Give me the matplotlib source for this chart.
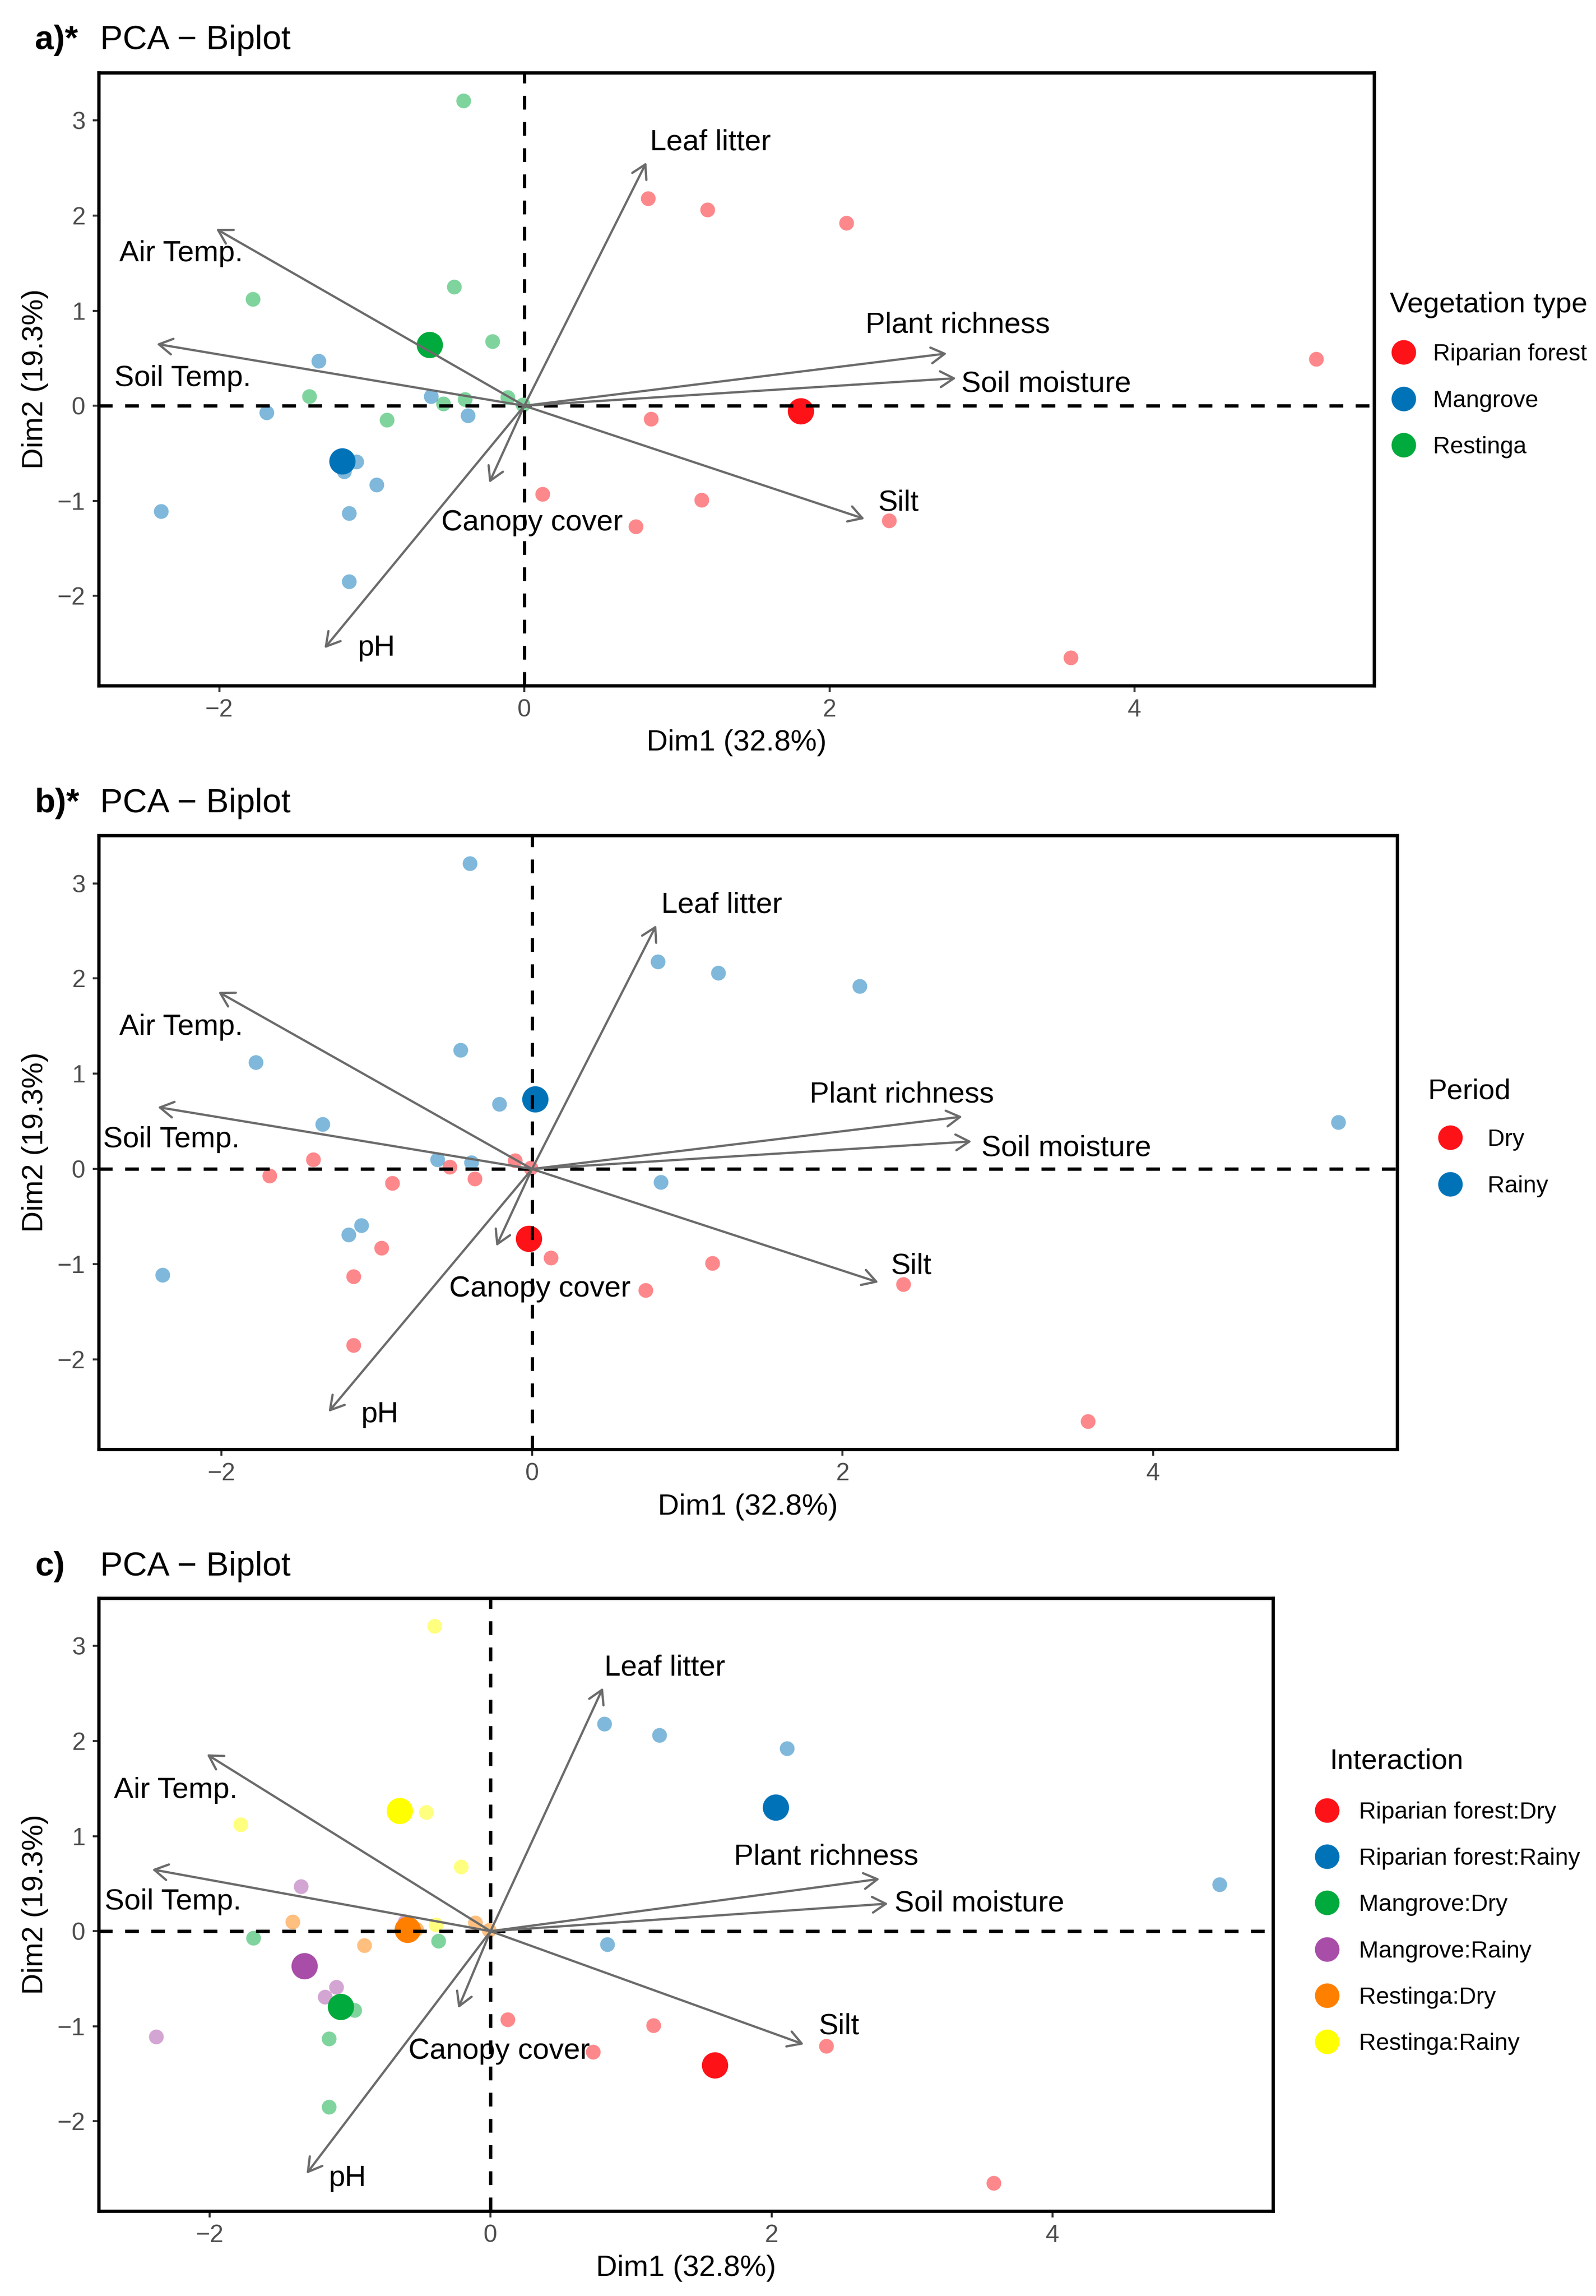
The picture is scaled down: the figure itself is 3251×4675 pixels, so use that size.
import numpy as np
import matplotlib
matplotlib.use("Agg")
import matplotlib.pyplot as plt
from matplotlib.lines import Line2D

plt.rcParams['font.family'] = ['Liberation Sans', 'DejaVu Sans']

### individuals (PCA scores) ###
dim1 = np.array([0.81, 1.20, 2.11, 5.19, 0.83,
                 0.12, 1.16, 0.73, 2.39, 3.58,
                 -1.35, -1.10, -1.18, -2.38, -0.61,
                 -1.69, -0.37, -0.97, -1.15, -1.15,
                 -0.40, -0.46, -1.78, -0.21, -0.39,
                 -1.41, -0.90, -0.53, -0.11, -0.01])
dim2 = np.array([2.18, 2.06, 1.92, 0.49, -0.14,
                 -0.93, -0.99, -1.27, -1.21, -2.65,
                 0.47, -0.59, -0.69, -1.11, 0.10,
                 -0.07, -0.10, -0.83, -1.13, -1.85,
                 3.21, 1.25, 1.12, 0.68, 0.07,
                 0.10, -0.15, 0.02, 0.09, 0.01])
vegetation = ["Riparian forest"] * 10 + ["Mangrove"] * 10 + ["Restinga"] * 10
period = (["Rainy"] * 5 + ["Dry"] * 5) * 3
interaction = [v + ":" + p for v, p in zip(vegetation, period)]

### variables (arrows) ###
var_names = ["Leaf litter", "Air Temp.", "Soil Temp.", "Plant richness",
             "Soil moisture", "Silt", "Canopy cover", "pH"]
var_dim1 = np.array([0.80, -2.02, -2.41, 2.77, 2.83, 2.23, -0.23, -1.31])
var_dim2 = np.array([2.56, 1.86, 0.65, 0.55, 0.29, -1.19, -0.81, -2.55])

### label positions of the arrows (repelled, so different per panel) ###
lab_a = [(1.22, 2.77), (-2.25, 1.60), (-2.24, 0.29), (2.84, 0.85),
         (3.42, 0.23), (2.45, -1.02), (0.05, -1.23), (-0.97, -2.55)]
lab_b = [(1.22, 2.77), (-2.26, 1.49), (-2.32, 0.31), (2.38, 0.78),
         (3.44, 0.22), (2.44, -1.02), (0.05, -1.26), (-0.98, -2.58)]
lab_c = [(1.24, 2.77), (-2.24, 1.48), (-2.26, 0.31), (2.39, 0.78),
         (3.48, 0.29), (2.48, -1.00), (0.06, -1.26), (-1.02, -2.60)]

veg_levels = ["Riparian forest", "Mangrove", "Restinga"]
veg_colors = ["#FD1218", "#0073B8", "#00AA3C"]
per_levels = ["Dry", "Rainy"]
per_colors = ["#FD1218", "#0073B8"]
int_levels = ["Riparian forest:Dry", "Riparian forest:Rainy", "Mangrove:Dry",
              "Mangrove:Rainy", "Restinga:Dry", "Restinga:Rainy"]
int_colors = ["#FD1218", "#0073B8", "#00AA3C", "#A84DA8", "#FF8000", "#FFFF00"]

W, H = 3251, 4675
fig = plt.figure(figsize=(W / 300, H / 300), dpi=300)

def fx(px):
    return px / W

def fy(py):
    return 1 - py / H

# data range + 5% (like ggplot)
allx = np.concatenate([dim1, var_dim1])
ally = np.concatenate([dim2, var_dim2])
rx = allx.max() - allx.min()
ry = ally.max() - ally.min()
xlim = (allx.min() - 0.05 * rx, allx.max() + 0.05 * rx)
ylim = (ally.min() - 0.05 * ry, ally.max() + 0.05 * ry)

panels = [
    # tag, groups, levels, colors, legend title, axes box px, labels, title baseline,
    # legend: title left, title baseline, legend left, rows centre, textpad
    ("a)*", vegetation, veg_levels, veg_colors, "Vegetation type",
     (201, 148, 2799, 1396), lab_a, 100, (2831, 636, 2835, 816, 0.74)),
    ("b)*", period, per_levels, per_colors, "Period",
     (201, 1701, 2846, 2951), lab_b, 1654, (2908, 2237, 2930, 2368, 1.07)),
    ("c)", interaction, int_levels, int_colors, "Interaction",
     (201, 3254, 2593, 4502), lab_c, 3208, (2709, 3601, 2679, 3926, 0.84)),
]

for tag, groups, levels, colors, ltitle, box, labs, tby, leg in panels:
    l, t, r, b = box
    ax = fig.add_axes([fx(l), fy(b), (r - l) / W, (b - t) / H])
    groups = np.array(groups)

    ### individuals, then group means ###
    for lev, col in zip(levels, colors):
        m = groups == lev
        ax.scatter(dim1[m], dim2[m], s=52, color=col, alpha=0.5,
                   linewidths=0, zorder=2)
    for lev, col in zip(levels, colors):
        m = groups == lev
        ax.scatter(dim1[m].mean(), dim2[m].mean(), s=165, color=col,
                   linewidths=0, zorder=3)

    ax.axhline(0, color="black", lw=1.6, linestyle=(0, (4.2, 3.8)), zorder=4)
    ax.axvline(0, color="black", lw=1.6, linestyle=(0, (4.2, 3.8)), zorder=4)

    ### variable arrows ###
    for name, vx, vy, (lx, ly) in zip(var_names, var_dim1, var_dim2, labs):
        ax.annotate("", xy=(vx, vy), xytext=(0, 0),
                    arrowprops=dict(arrowstyle="->,head_length=0.6,head_width=0.35",
                                    color="#6B6B6B", lw=1.1, shrinkA=0, shrinkB=0,
                                    mutation_scale=11),
                    zorder=5)
        ax.text(lx, ly, name, fontsize=14.4, ha="center", va="center", zorder=6)

    ax.set_xlim(xlim)
    ax.set_ylim(ylim)
    ax.set_xticks([-2, 0, 2, 4])
    ax.set_yticks([-2, -1, 0, 1, 2, 3])
    ax.tick_params(length=3, width=1, color="#333333", labelsize=12,
                   labelcolor="#4D4D4D", pad=3.5)
    for sp in ax.spines.values():
        sp.set_linewidth(1.6)
        sp.set_color("black")

    ax.set_xlabel("Dim1 (32.8%)", fontsize=14.4)
    ax.xaxis.set_label_coords(0.5, -0.106)
    ax.xaxis.label.set_va("baseline")
    ax.set_ylabel("Dim2 (19.3%)", fontsize=14.4)
    ax.yaxis.set_label_coords(fx(72), 0.5, transform=matplotlib.transforms.blended_transform_factory(fig.transFigure, ax.transAxes))
    ax.yaxis.label.set_va("center")

    ### panel title ###
    fig.text(fx(71), fy(tby), tag, fontsize=16.5, fontweight="bold", va="baseline")
    fig.text(fx(204), fy(tby), "PCA \u2212 Biplot", fontsize=16.5, va="baseline")

    ### legend ###
    tl, tb, ll, lc, pad = leg
    fig.text(fx(tl), fy(tb), ltitle, fontsize=14, va="baseline")
    handles = [Line2D([], [], marker="o", linestyle="", markersize=12,
                      markerfacecolor=c, markeredgewidth=0) for c in colors]
    ax.legend(handles, levels, loc="center left", bbox_to_anchor=(fx(ll), fy(lc)),
              bbox_transform=fig.transFigure, frameon=False, fontsize=11.6,
              borderpad=0, borderaxespad=0, handlelength=1.0,
              handletextpad=pad, labelspacing=1.02)

fig.savefig("out.png", dpi=300)
